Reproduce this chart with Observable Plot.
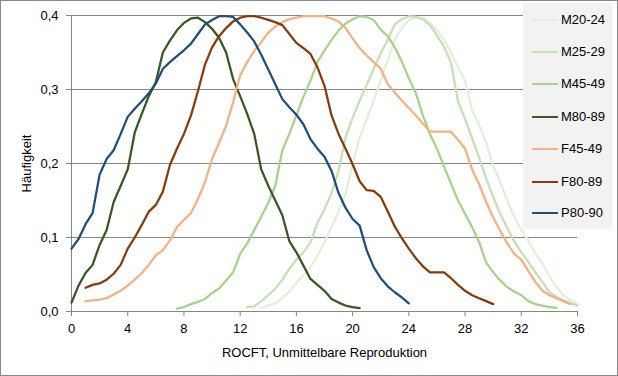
<!DOCTYPE html>
<html>
<head>
<meta charset="utf-8">
<script src="https://cdn.jsdelivr.net/npm/d3@7"></script>
<script src="https://cdn.jsdelivr.net/npm/@observablehq/plot@0.6"></script>
<style>
  html, body { margin: 0; padding: 0; background: #fff; }
  #wrap { position: relative; width: 618px; height: 376px; overflow: hidden; font-family: "Liberation Sans", Arial, sans-serif; }
  #chart { position: absolute; left: 0; top: 0; }
  #frame { position: absolute; left: 0; top: 0; width: 618px; height: 376px; box-sizing: border-box; border: 1px solid #898989; pointer-events: none; }
  #legend { position: absolute; left: 523px; top: 3px; width: 89px; height: 226px; background: #f2f2f2; }
  .item { position: absolute; left: 0; height: 16px; width: 89px; }
  .item .sw { position: absolute; left: 9px; top: 7px; width: 26px; height: 0; border-top: 2.5px solid; }
  .item .lb { position: absolute; left: 38px; top: 0; font-size: 13px; line-height: 16px; color: #000; white-space: nowrap; }
</style>
</head>
<body>
<div id="wrap">
  <div id="chart"></div>
  <div id="legend"></div>
  <div id="frame"></div>
</div>
<script>
// shared x grid (ROCFT score)
const xGrid = [0,0.5,1,1.5,2,2.5,3,3.5,4,4.5,5,5.5,6,6.5,7,7.5,8,8.5,9,9.5,10,10.5,11,11.5,12,12.5,13,13.5,14,14.5,15,15.5,16,16.5,17,17.5,18,18.5,19,19.5,20,20.5,21,21.5,22,22.5,23,23.5,24,24.5,25,25.5,26,26.5,27,27.5,28,28.5,29,29.5,30,30.5,31,31.5,32,32.5,33,33.5,34,34.5,35,35.5,36];

const seriesNames = ["M20-24","M25-29","M45-49","M80-89","F45-49","F80-89","P80-90"];
const seriesColors = ["#e2efd9","#c5e0b4","#a9d18e","#385723","#f4b183","#843c0c","#1f4e79"];
const seriesStart = [13.5, 12.5, 7.5, 0, 1, 1, 0];

const m2024 = [.005,.008,.011,.018,.027,.038,.049,.060,.075,.094,.114,.135,.160,.200,.235,.260,.285,.313,.340,.367,.383,.394,.398,.397,.390,.380,.368,.350,.330,.312,.272,.252,.228,.197,.175,.150,.128,.110,.096,.078,.065,.048,.033,.022,.015,.010];
const m2529 = [.006,.007,.014,.022,.031,.043,.058,.070,.080,.093,.120,.138,.160,.190,.235,.262,.285,.306,.328,.349,.367,.388,.395,.399,.398,.395,.387,.373,.358,.336,.284,.260,.234,.208,.180,.155,.132,.113,.095,.080,.067,.053,.040,.026,.020,.015,.011,.008];
const m4549 = [.004,.006,.010,.013,.017,.025,.031,.042,.053,.078,.092,.110,.128,.147,.170,.218,.240,.265,.290,.312,.337,.353,.367,.380,.389,.395,.399,.398,.394,.381,.372,.357,.338,.315,.295,.265,.240,.220,.196,.173,.150,.132,.114,.094,.066,.053,.042,.033,.027,.022,.014,.010,.008,.006,.005];
const m8089 = [.012,.035,.052,.063,.090,.110,.148,.170,.192,.242,.267,.291,.310,.350,.366,.380,.390,.396,.397,.391,.382,.370,.350,.314,.291,.267,.240,.192,.170,.150,.130,.095,.080,.062,.044,.036,.028,.017,.012,.008,.006,.0045];
const f4549 = [.014,.015,.016,.018,.023,.028,.035,.043,.052,.063,.076,.083,.096,.114,.124,.133,.152,.175,.206,.228,.251,.283,.319,.337,.352,.364,.377,.385,.391,.395,.397,.399,.399,.399,.399,.396,.392,.383,.369,.356,.346,.337,.328,.307,.296,.285,.275,.265,.254,.243,.243,.243,.243,.232,.220,.192,.172,.148,.127,.109,.092,.078,.070,.055,.040,.028,.022,.018,.014,.010];
const f8089 = [.032,.036,.038,.043,.051,.063,.085,.100,.117,.135,.144,.162,.198,.220,.240,.265,.298,.334,.357,.372,.383,.392,.397,.399,.399,.397,.394,.391,.387,.375,.363,.356,.348,.330,.305,.265,.240,.220,.199,.176,.164,.163,.155,.135,.115,.099,.085,.072,.061,.053,.053,.053,.045,.036,.028,.022,.018,.014,.010];
const p8090 = [.085,.098,.118,.133,.185,.206,.218,.240,.263,.274,.284,.295,.308,.328,.337,.345,.353,.362,.375,.388,.394,.399,.399,.398,.388,.377,.365,.347,.327,.307,.287,.276,.266,.253,.233,.220,.209,.190,.160,.140,.125,.116,.083,.060,.045,.034,.026,.019,.011];

const xTicks = [0,4,8,12,16,20,24,28,32,36];
const yTicks = [0,0.1,0.2,0.3,0.4];

const seriesValues = [m2024, m2529, m4549, m8089, f4549, f8089, p8090];

const rows = [];
seriesValues.forEach((vals, s) => {
  const i0 = xGrid.indexOf(seriesStart[s]);
  vals.forEach((v, i) => rows.push({series: seriesNames[s], x: xGrid[i0 + i], y: v}));
});

const fmt = d => d.toFixed(1).replace(".", ",");

const chart = Plot.plot({
  width: 618,
  height: 376,
  marginLeft: 71,
  marginRight: 41,
  marginTop: 15,
  marginBottom: 65,
  style: {fontFamily: "'Liberation Sans', Arial, sans-serif", fontSize: "13px", color: "#000", background: "transparent"},
  x: {domain: [0, 36]},
  y: {domain: [0, 0.4]},
  color: {domain: seriesNames, range: seriesColors},
  marks: [
    Plot.ruleY(yTicks, {stroke: "#868686", strokeWidth: 1}),
    Plot.ruleX([0], {stroke: "#868686", strokeWidth: 1}),
    Plot.axisX({ticks: xTicks, tickSize: 5, tickPadding: 7, stroke: "#868686", fontSize: 13, label: "ROCFT, Unmittelbare Reproduktion", labelAnchor: "center", labelArrow: "none", labelOffset: 45}),
    Plot.axisY({ticks: yTicks, tickSize: 5, tickPadding: 8, tickFormat: fmt, stroke: "#868686", fontSize: 13, label: "Häufigkeit", labelAnchor: "center", labelArrow: "none", labelOffset: 50}),
    Plot.line(rows, {x: "x", y: "y", z: "series", stroke: "series", strokeWidth: 2.25, strokeLinejoin: "round"})
  ]
});
document.getElementById("chart").appendChild(chart);

// legend (HTML, text kept as text)
const legend = document.getElementById("legend");
const legendTops = [9, 41, 73, 106, 138, 171, 202];
seriesNames.forEach((name, i) => {
  const it = document.createElement("div");
  it.className = "item";
  it.style.top = legendTops[i] + "px";
  const sw = document.createElement("div");
  sw.className = "sw";
  sw.style.borderTopColor = seriesColors[i];
  const lb = document.createElement("div");
  lb.className = "lb";
  lb.textContent = name;
  it.appendChild(sw); it.appendChild(lb);
  legend.appendChild(it);
});
</script>
</body>
</html>
